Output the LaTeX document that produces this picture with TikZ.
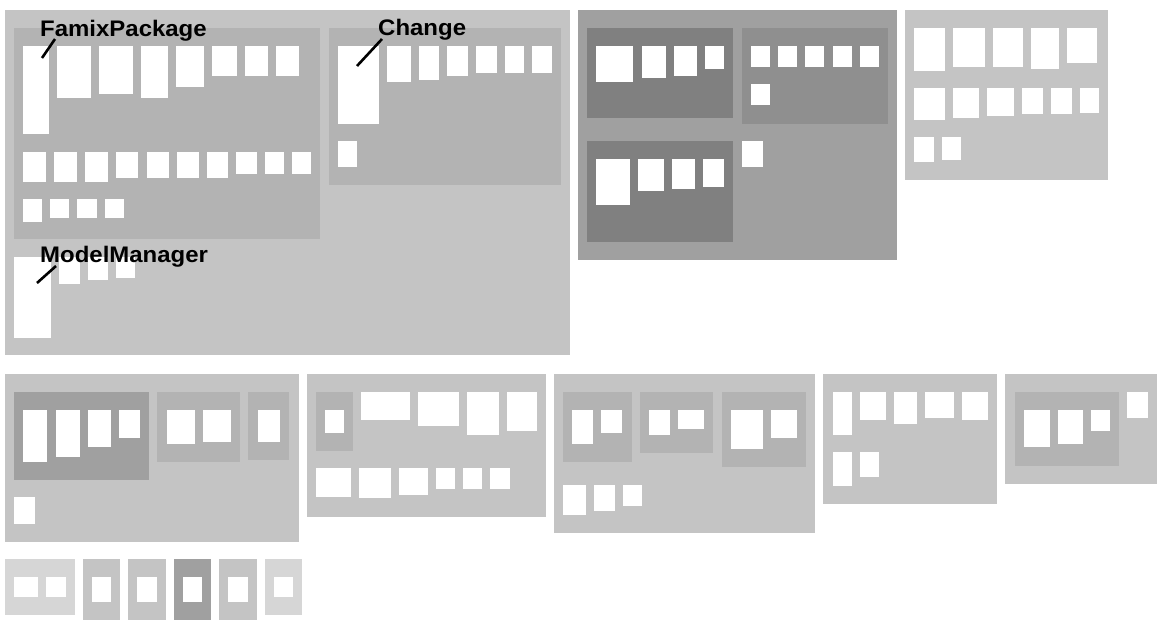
\documentclass[tikz,border=0pt]{standalone}
\usepackage{fontspec}
\setmainfont{Liberation Sans}
\newfontfamily\lblfont[FakeStretch=1.065]{Liberation Sans}
\definecolor{gA}{RGB}{196,196,196}
\definecolor{gB}{RGB}{179,179,179}
\definecolor{gC}{RGB}{160,160,160}
\definecolor{gD}{RGB}{143,143,143}
\definecolor{gE}{RGB}{128,128,128}
\definecolor{gF}{RGB}{214,214,214}
\tikzset{
  cell/.style={fill=white},
  boxA/.style={fill=gA},
  boxB/.style={fill=gB},
  boxC/.style={fill=gC},
  boxD/.style={fill=gD},
  boxE/.style={fill=gE},
  boxF/.style={fill=gF},
  lbl/.style={anchor=base west, inner sep=0pt, font=\lblfont\fontsize{22.5}{22.5}\selectfont\bfseries},
  ptr/.style={draw=black, line width=2.6pt}
}
\newcommand\rbox[5]{\fill[#1] (#2,#3) rectangle (#4,#5);}
\newcommand\wcell[4]{\fill[cell] (#1,#2) rectangle (#3,#4);}
\begin{document}
\begin{tikzpicture}[x=1pt,y=-1pt]
\useasboundingbox (0,0) rectangle (1172,632);
% ===== Box 1 =====
\rbox{boxA}{5}{10}{570}{355}
\rbox{boxB}{14}{28}{320}{239}
\wcell{23}{46}{49}{134}
\wcell{57}{46}{91}{98}
\wcell{99}{46}{133}{94}
\wcell{141}{46}{168}{98}
\wcell{176}{46}{204}{87}
\wcell{212}{46}{237}{76}
\wcell{245}{46}{268}{76}
\wcell{276}{46}{299}{76}
\wcell{23}{152}{46}{182}
\wcell{54}{152}{77}{182}
\wcell{85}{152}{108}{182}
\wcell{116}{152}{138}{178}
\wcell{147}{152}{169}{178}
\wcell{177}{152}{199}{178}
\wcell{207}{152}{228}{178}
\wcell{236}{152}{257}{174}
\wcell{265}{152}{284}{174}
\wcell{292}{152}{311}{174}
\wcell{23}{199}{42}{222}
\wcell{50}{199}{69}{218}
\wcell{77}{199}{97}{218}
\wcell{105}{199}{124}{218}
% ModelManager cells
\wcell{14}{257}{51}{338}
\wcell{59}{257}{80}{284}
\wcell{88}{257}{108}{280}
\wcell{116}{257}{135}{278}
% Change
\rbox{boxB}{329}{28}{561}{185}
\wcell{338}{46}{379}{124}
\wcell{387}{46}{411}{82}
\wcell{419}{46}{439}{80}
\wcell{447}{46}{468}{76}
\wcell{476}{46}{497}{73}
\wcell{505}{46}{524}{73}
\wcell{532}{46}{552}{73}
\wcell{338}{141}{357}{167}
% labels
\coordinate (famixA) at (55,39);
\coordinate (famixB) at (42,58);
\coordinate (changeA) at (382,39);
\coordinate (changeB) at (357,66);
\coordinate (mmA) at (56,266);
\coordinate (mmB) at (37,283);
\draw[ptr] (famixA) -- (famixB);
\draw[ptr] (changeA) -- (changeB);
\draw[ptr] (mmA) -- (mmB);
\node[lbl] (famix) at (40,36) {FamixPackage};
\node[lbl] (change) at (378,35) {Change};
\node[lbl] (mm) at (40,262) {ModelManager};
% ===== Box 2 =====
\rbox{boxC}{578}{10}{897}{260}
\rbox{boxE}{587}{28}{733}{118}
\wcell{596}{46}{633}{82}
\wcell{642}{46}{666}{78}
\wcell{674}{46}{697}{76}
\wcell{705}{46}{724}{69}
\rbox{boxD}{742}{28}{888}{124}
\wcell{751}{46}{770}{67}
\wcell{778}{46}{797}{67}
\wcell{805}{46}{824}{67}
\wcell{833}{46}{852}{67}
\wcell{860}{46}{879}{67}
\wcell{751}{84}{770}{105}
\rbox{boxE}{587}{141}{733}{242}
\wcell{596}{159}{630}{205}
\wcell{638}{159}{664}{191}
\wcell{672}{159}{695}{189}
\wcell{703}{159}{724}{187}
\wcell{742}{141}{763}{167}
% ===== Box 3 =====
\rbox{boxA}{905}{10}{1108}{180}
\wcell{914}{28}{945}{71}
\wcell{953}{28}{985}{67}
\wcell{993}{28}{1023}{67}
\wcell{1031}{28}{1059}{69}
\wcell{1067}{28}{1097}{63}
\wcell{914}{88}{945}{120}
\wcell{953}{88}{979}{118}
\wcell{987}{88}{1014}{116}
\wcell{1022}{88}{1043}{114}
\wcell{1051}{88}{1072}{114}
\wcell{1080}{88}{1099}{113}
\wcell{914}{137}{934}{162}
\wcell{942}{137}{961}{160}
% ===== Box 4 =====
\rbox{boxA}{5}{374}{299}{542}
\rbox{boxC}{14}{392}{149}{480}
\wcell{23}{410}{47}{462}
\wcell{56}{410}{80}{457}
\wcell{88}{410}{111}{447}
\wcell{119}{410}{140}{438}
\rbox{boxB}{157}{392}{240}{462}
\wcell{167}{410}{195}{444}
\wcell{203}{410}{231}{442}
\rbox{boxB}{248}{392}{289}{460}
\wcell{258}{410}{280}{442}
\wcell{14}{497}{35}{524}
% ===== Box 5 =====
\rbox{boxA}{307}{374}{546}{517}
\rbox{boxB}{316}{392}{353}{451}
\wcell{325}{410}{344}{433}
\wcell{361}{392}{410}{420}
\wcell{418}{392}{459}{426}
\wcell{467}{392}{499}{435}
\wcell{507}{392}{537}{431}
\wcell{316}{468}{351}{497}
\wcell{359}{468}{391}{498}
\wcell{399}{468}{428}{495}
\wcell{436}{468}{455}{489}
\wcell{463}{468}{482}{489}
\wcell{490}{468}{510}{489}
% ===== Box 6 =====
\rbox{boxA}{554}{374}{815}{533}
\rbox{boxB}{563}{392}{632}{462}
\wcell{572}{410}{593}{444}
\wcell{601}{410}{622}{433}
\rbox{boxB}{640}{392}{713}{453}
\wcell{649}{410}{670}{435}
\wcell{678}{410}{704}{429}
\rbox{boxB}{722}{392}{806}{467}
\wcell{731}{410}{763}{449}
\wcell{771}{410}{797}{438}
\wcell{563}{485}{586}{515}
\wcell{594}{485}{615}{511}
\wcell{623}{485}{642}{506}
% ===== Box 7 =====
\rbox{boxA}{823}{374}{997}{504}
\wcell{833}{392}{852}{435}
\wcell{860}{392}{886}{420}
\wcell{894}{392}{917}{424}
\wcell{925}{392}{954}{418}
\wcell{962}{392}{988}{420}
\wcell{833}{452}{852}{486}
\wcell{860}{452}{879}{477}
% ===== Box 8 =====
\rbox{boxA}{1005}{374}{1157}{484}
\rbox{boxB}{1015}{392}{1119}{466}
\wcell{1024}{410}{1050}{447}
\wcell{1058}{410}{1083}{444}
\wcell{1091}{410}{1110}{431}
\wcell{1127}{392}{1148}{418}
% ===== Small boxes =====
\rbox{boxF}{5}{559}{75}{615}
\wcell{14}{577}{38}{597}
\wcell{46}{577}{66}{597}
\rbox{boxA}{83}{559}{120}{620}
\wcell{92}{577}{111}{602}
\rbox{boxA}{128}{559}{166}{620}
\wcell{137}{577}{157}{602}
\rbox{boxC}{174}{559}{211}{620}
\wcell{183}{577}{202}{602}
\rbox{boxA}{219}{559}{257}{620}
\wcell{228}{577}{248}{602}
\rbox{boxF}{265}{559}{302}{615}
\wcell{274}{577}{293}{597}
\end{tikzpicture}
\end{document}
